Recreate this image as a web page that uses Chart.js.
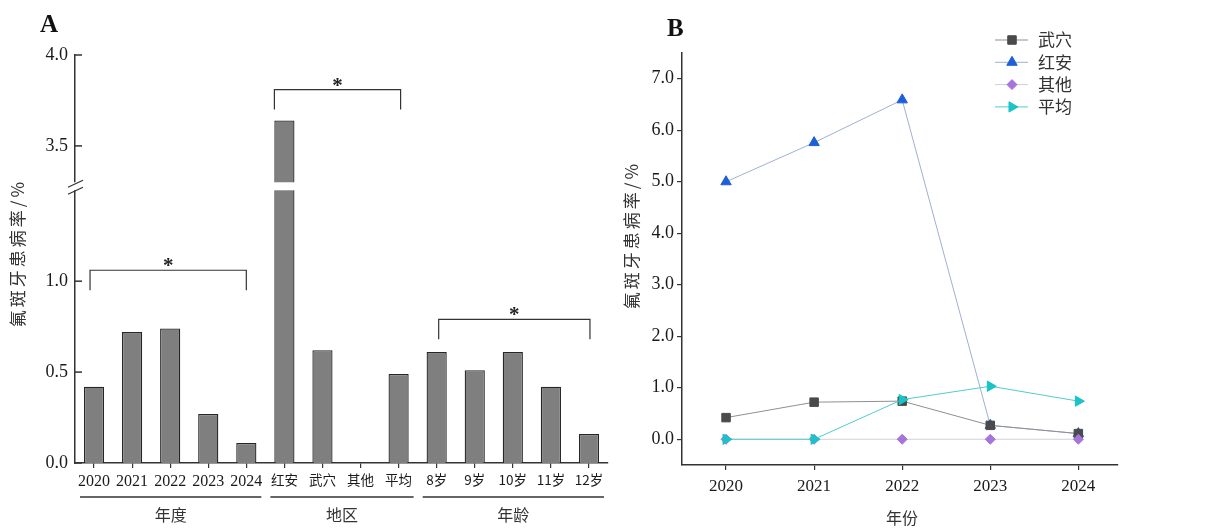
<!DOCTYPE html>
<html><head><meta charset="utf-8">
<script src="https://cdn.jsdelivr.net/npm/chart.js@4.4.1/dist/chart.umd.min.js"></script>
<style>
html,body{margin:0;padding:0;background:#fff;width:1230px;height:529px;overflow:hidden;}
#wrapA{position:absolute;left:0;top:0;width:615px;height:529px;}
#wrapB{position:absolute;left:615px;top:0;width:615px;height:529px;}
.panel{position:absolute;font-family:'Liberation Serif','Times New Roman',serif;font-weight:bold;font-size:25px;color:#111;line-height:1;}
</style></head><body>
<div id="wrapA"><canvas id="chartA" width="615" height="529"></canvas></div>
<div id="wrapB"><canvas id="chartB" width="615" height="529"></canvas></div>
<div class="panel" style="left:40px;top:11px;">A</div>
<div class="panel" style="left:667px;top:15px;">B</div>
<script>
// ---------------- Data ----------------
const categoriesA = ['2020','2021','2022','2023','2024','红安','武穴','其他','平均','8岁','9岁','10岁','11岁','12岁'];
const ratesA = [0.42, 0.72, 0.74, 0.27, 0.11, 3.64, 0.62, 0, 0.49, 0.61, 0.51, 0.61, 0.42, 0.16];
const yTicksA = [0, 0.5, 1.0, 3.5, 4.0];
const groupNamesA = ['年度', '地区', '年龄'];
const groupStartA = [0, 5, 9];
const groupEndA = [4, 8, 13];
const sigLabelA = ['*', '*', '*'];

const yearsB = [2020, 2021, 2022, 2023, 2024];
const seriesNamesB = ['武穴', '红安', '其他', '平均'];
const wuxueB = [0.42, 0.72, 0.74, 0.27, 0.11];
const honganB = [5.00, 5.76, 6.59, 0.27, 0.11];
const qitaB = [0, 0, 0, 0, 0];
const pingjunB = [0, 0, 0.77, 1.03, 0.74];
const yTicksB = [0, 1, 2, 3, 4, 5, 6, 7];
const yTitle = '氟斑牙患病率/%';
const xTitleB = '年份';

// ---------------- Fonts ----------------
const fontSerif = "'Liberation Serif','Times New Roman','Noto Sans CJK SC',serif";
const fontCJK = "'Noto Sans CJK SC','Liberation Serif',sans-serif";

// ---------------- Broken linear scale ----------------
const LinearScale = Chart.LinearScale || Chart.registry.getScale('linear');
class BrokenLinearScale extends LinearScale {
  _tr(v) { const b = this.options.brk; if (v <= b.low) return v; if (v >= b.high) return b.low + b.gap + (v - b.high); return b.low + b.gap * (v - b.low) / (b.high - b.low); }
  _itr(t) { const b = this.options.brk; if (t <= b.low) return t; if (t >= b.low + b.gap) return b.high + (t - b.low - b.gap); return b.low + (t - b.low) * (b.high - b.low) / b.gap; }
  getPixelForValue(v) { const a = this._tr(this.min), z = this._tr(this.max); return this.getPixelForDecimal((this._tr(v) - a) / (z - a)); }
  getValueForPixel(p) { const a = this._tr(this.min), z = this._tr(this.max); return this._itr(a + this.getDecimalForPixel(p) * (z - a)); }
}
BrokenLinearScale.id = 'brokenLinear';
BrokenLinearScale.defaults = LinearScale.defaults;
Chart.register(BrokenLinearScale);

function line(ctx, x1, y1, x2, y2) { ctx.beginPath(); ctx.moveTo(x1, y1); ctx.lineTo(x2, y2); ctx.stroke(); }
function vTitle(ctx, text, cx, cy, size) {
  ctx.save();
  ctx.translate(cx, cy); ctx.rotate(-Math.PI / 2);
  ctx.font = size + 'px ' + fontCJK; ctx.fillStyle = '#333';
  ctx.textAlign = 'center'; ctx.textBaseline = 'middle';
  try { ctx.letterSpacing = '3px'; } catch (e) {}
  ctx.fillText(text, 0, 0);
  ctx.restore();
}

// ---------------- Panel A decorations ----------------
const decorA = {
  id: 'decorA',
  afterDraw(chart) {
    const { ctx, chartArea: ca, scales: { x, y } } = chart;
    const brk = y.options.brk;
    ctx.save();
    ctx.strokeStyle = '#333'; ctx.lineWidth = 1.5;
    // inward ticks on y-axis
    yTicksA.forEach(v => { const py = y.getPixelForValue(v); line(ctx, ca.left, py, ca.left + 7, py); });
    // axis break
    const yHi = y.getPixelForValue(brk.high), yLo = y.getPixelForValue(brk.low);
    ctx.fillStyle = '#fff';
    ctx.fillRect(ca.left - 12, yHi, ca.right - ca.left + 12, yLo - yHi);
    ctx.lineWidth = 1.3;
    line(ctx, ca.left - 7, yHi + 5, ca.left + 8, yHi - 2);
    line(ctx, ca.left - 7, yLo + 4, ca.left + 8, yLo - 3);
    // significance brackets
    const br = [{ level: 1.06, dx: [-4, 0] }, { level: 3.81, dx: [-10, 2] }, { level: 0.79, dx: [2, 1] }];
    ctx.lineWidth = 1.2; ctx.strokeStyle = '#333';
    br.forEach((b, g) => {
      const x1 = x.getPixelForValue(groupStartA[g]) + b.dx[0];
      const x2 = x.getPixelForValue(groupEndA[g]) + b.dx[1];
      const top = y.getPixelForValue(b.level);
      ctx.beginPath(); ctx.moveTo(x1, top + 20); ctx.lineTo(x1, top); ctx.lineTo(x2, top); ctx.lineTo(x2, top + 20); ctx.stroke();
      ctx.fillStyle = '#222'; ctx.font = 'bold 21px ' + fontSerif; ctx.textAlign = 'center'; ctx.textBaseline = 'alphabetic';
      ctx.fillText(sigLabelA[g], (x1 + x2) / 2, top + 2);
    });
    // group lines and labels
    ctx.lineWidth = 1.3;
    for (let g = 0; g < groupNamesA.length; g++) {
      const xa = x.getPixelForValue(groupStartA[g]) - 14;
      const xb = x.getPixelForValue(groupEndA[g]) + 15;
      line(ctx, xa, ca.bottom + 34, xb, ca.bottom + 34);
      ctx.fillStyle = '#333'; ctx.font = '16px ' + fontCJK; ctx.textAlign = 'center'; ctx.textBaseline = 'middle';
      ctx.fillText(groupNamesA[g], (xa + xb) / 2, ca.bottom + 52);
    }
    ctx.restore();
    vTitle(ctx, yTitle, 18, 253, 17);
  }
};

new Chart(document.getElementById('chartA'), {
  type: 'bar',
  data: { labels: categoriesA, datasets: [{ data: ratesA, backgroundColor: '#7f7f7f', borderColor: '#262626', borderWidth: 1.3, barPercentage: 0.53, categoryPercentage: 1 }] },
  options: {
    responsive: false, animation: false, devicePixelRatio: 1,
    layout: { padding: { top: 55, right: 7, left: 0, bottom: 0 } },
    plugins: { legend: { display: false }, tooltip: { enabled: false } },
    scales: {
      x: {
        type: 'category', offset: true,
        grid: { display: true, offset: false, drawOnChartArea: false, drawTicks: true, tickLength: 5, color: '#333', lineWidth: 1.2 },
        border: { display: true, color: '#333', width: 1.5 },
        ticks: { autoSkip: false, maxRotation: 0, minRotation: 0, padding: 4, color: '#1a1a1a',
          font: (c) => c.index < 5 ? { family: fontSerif, size: 16 } : { family: fontCJK, size: 13.5 } },
        afterFit: (s) => { s.height = 66; }
      },
      y: {
        type: 'brokenLinear', min: 0, max: 4, brk: { low: 1.5, high: 3.3, gap: 0.044 },
        afterBuildTicks: (s) => { s.ticks = yTicksA.map(v => ({ value: v })); },
        grid: { display: false, drawTicks: false },
        border: { display: true, color: '#333', width: 1.5 },
        ticks: { padding: 7, color: '#1a1a1a', font: { family: fontSerif, size: 18 }, callback: (v) => Number(v).toFixed(1) },
        afterFit: (s) => { s.width = 75; }
      }
    }
  },
  plugins: [decorA]
});

// ---------------- Panel B ----------------
const decorB = {
  id: 'decorB',
  afterDraw(chart) {
    const { ctx, chartArea: ca } = chart;
    ctx.save();
    chart.data.datasets.forEach((ds, i) => {
      const yy = 40 + i * 22.3;
      ctx.strokeStyle = ds.borderColor; ctx.lineWidth = 1;
      line(ctx, 380, yy, 413, yy);
      ctx.fillStyle = ds.pointBackgroundColor; ctx.strokeStyle = ds.pointBorderColor;
      Chart.helpers.drawPoint(ctx, { pointStyle: ds.pointStyle, radius: ds.pointRadius, rotation: ds.pointRotation || 0, borderWidth: 1 }, 397, yy);
      ctx.fillStyle = '#333'; ctx.font = '17px ' + fontCJK; ctx.textAlign = 'left'; ctx.textBaseline = 'middle';
      ctx.fillText(ds.label, 423, yy);
    });
    ctx.fillStyle = '#333'; ctx.font = '16px ' + fontCJK; ctx.textAlign = 'center'; ctx.textBaseline = 'middle';
    ctx.fillText(xTitleB, (ca.left + ca.right) / 2 + 2, 518);
    ctx.restore();
    vTitle(ctx, yTitle, 17, 235, 17);
  }
};

const pts = (arr) => yearsB.map((yr, i) => ({ x: yr, y: arr[i] }));
new Chart(document.getElementById('chartB'), {
  type: 'line',
  data: { datasets: [
    { label: seriesNamesB[0], data: pts(wuxueB), borderColor: '#8f8f8f', borderWidth: 1, pointStyle: 'rect', pointRadius: 6, pointBackgroundColor: '#4a4a4a', pointBorderColor: '#4a4a4a', pointBorderWidth: 1, order: 2 },
    { label: seriesNamesB[1], data: pts(honganB), borderColor: '#9fb0d0', borderWidth: 1, pointStyle: 'triangle', pointRadius: 6, pointBackgroundColor: '#1d5fd6', pointBorderColor: '#1d5fd6', pointBorderWidth: 1, order: 3 },
    { label: seriesNamesB[2], data: pts(qitaB), borderColor: '#d4cdda', borderWidth: 1, pointStyle: 'rectRot', pointRadius: 5, pointBackgroundColor: '#a574dd', pointBorderColor: '#a574dd', pointBorderWidth: 1, order: 1 },
    { label: seriesNamesB[3], data: pts(pingjunB), borderColor: '#52cccc', borderWidth: 1, pointStyle: 'triangle', pointRotation: 90, pointRadius: 6, pointBackgroundColor: '#19c3c6', pointBorderColor: '#19c3c6', pointBorderWidth: 1, order: 0 }
  ] },
  options: {
    responsive: false, animation: false, devicePixelRatio: 1,
    layout: { padding: { top: 53, right: 112, left: 0, bottom: 0 } },
    plugins: { legend: { display: false }, tooltip: { enabled: false } },
    elements: { line: { tension: 0 } },
    scales: {
      x: {
        type: 'linear', min: 2019.5, max: 2024.45,
        afterBuildTicks: (s) => { s.ticks = yearsB.map(v => ({ value: v })); },
        grid: { display: true, drawOnChartArea: false, drawTicks: true, tickLength: 5, color: '#333', lineWidth: 1.2 },
        border: { display: true, color: '#333', width: 1.5 },
        ticks: { padding: 6, color: '#1a1a1a', font: { family: fontSerif, size: 17 }, callback: (v) => String(v), maxRotation: 0 },
        afterFit: (s) => { s.height = 64; }
      },
      y: {
        type: 'linear', min: -0.5, max: 7.5,
        afterBuildTicks: (s) => { s.ticks = yTicksB.map(v => ({ value: v })); },
        grid: { display: true, drawOnChartArea: false, drawTicks: true, tickLength: 5, color: '#333', lineWidth: 1.2 },
        border: { display: true, color: '#333', width: 1.5 },
        ticks: { padding: 3, color: '#1a1a1a', font: { family: fontSerif, size: 18 }, callback: (v) => Number(v).toFixed(1) },
        afterFit: (s) => { s.width = 67; }
      }
    }
  },
  plugins: [decorB]
});
</script>
</body></html>
